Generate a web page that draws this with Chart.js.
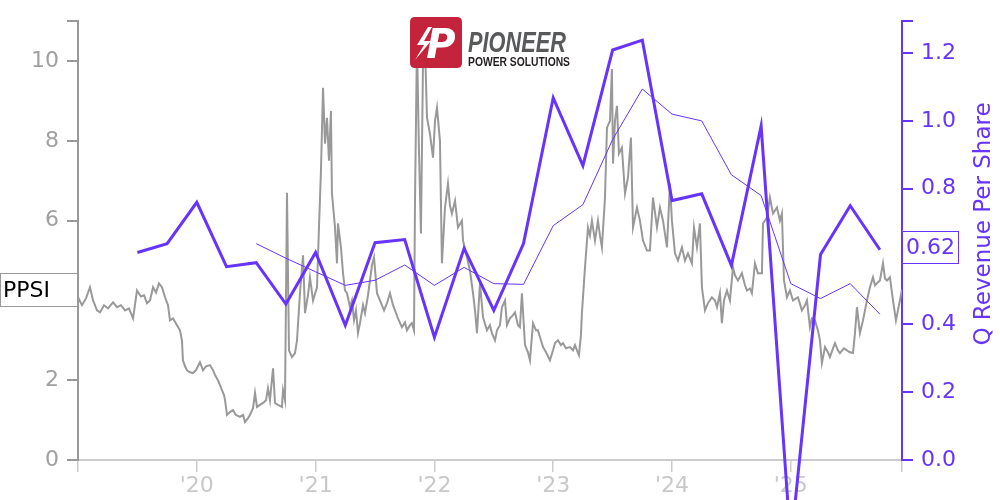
<!DOCTYPE html>
<html><head><meta charset="utf-8">
<script src="https://cdn.jsdelivr.net/npm/chart.js@4.4.1/dist/chart.umd.min.js"></script>
<style>html,body{margin:0;padding:0;background:#fff}#wrap{width:1000px;height:500px;position:relative}</style>
</head><body><div id="wrap"><canvas id="c" width="1000" height="500"></canvas></div>
<script>
// ---- DATA ----
const ticker = 'PPSI';
const rightAxisTitle = 'Q Revenue Per Share';
const yearTickLabels = ["'20", "'21", "'22", "'23", "'24", "'25"];
// quarter ends (YYYY-MM)
const quarterEnds = ['2019-06','2019-09','2019-12','2020-03','2020-06','2020-09','2020-12','2021-03','2021-06','2021-09','2021-12','2022-03','2022-06','2022-09','2022-12','2023-03','2023-06','2023-09','2023-12','2024-03','2024-06','2024-09','2024-12','2025-03','2025-06','2025-09'];
const revenuePerShare = [0.612,0.638,0.76,0.57,0.582,0.46,0.612,0.397,0.641,0.65,0.362,0.624,0.441,0.638,1.068,0.868,1.209,1.238,0.765,0.785,0.574,0.985,-0.25,0.606,0.75,0.62];
const avgQuarterEnds = ['2020-06','2020-09','2020-12','2021-03','2021-06','2021-09','2021-12','2022-03','2022-06','2022-09','2022-12','2023-03','2023-06','2023-09','2023-12','2024-03','2024-06','2024-09','2024-12','2025-03','2025-06','2025-09'];
const revenuePerShareAvg = [0.638,0.595,0.555,0.515,0.53,0.575,0.515,0.568,0.52,0.518,0.691,0.753,0.945,1.094,1.02,1.0,0.841,0.78,0.52,0.476,0.52,0.43];
// share price: time in months since 2019-01-01, close price
const priceMonth = [
0,0.40,0.81,1.21,1.52,1.92,2.22,2.63,3.03,3.54,
3.94,4.34,4.75,5.15,5.56,5.96,6.36,6.67,6.97,7.27,
7.58,7.88,8.18,8.48,8.79,9.09,9.29,9.60,10.0,10.3,
10.5,10.6,10.81,11.01,11.31,11.62,11.92,12.32,12.63,12.93,
13.33,13.64,13.84,14.14,14.54,14.75,14.85,15.05,15.35,15.66,
15.96,16.36,16.67,16.87,17.17,17.37,17.68,17.88,18.08,18.38,
18.69,18.99,19.19,19.39,19.70,19.90,20.2,20.6,20.71,20.91,
21.11,21.31,21.61,21.92,22.12,22.42,22.73,22.93,23.23,23.43,
23.74,24.14,24.34,24.54,24.75,24.95,25.15,25.35,25.55,25.65,
25.96,26.16,26.26,26.56,26.77,26.97,27.17,27.47,27.67,27.88,
28.08,28.28,28.48,28.79,28.99,29.29,29.49,29.69,29.90,30.2,
30.5,30.91,31.21,31.51,31.82,32.02,32.32,32.72,33.03,33.23,
33.53,33.73,33.94,34.04,34.24,34.44,34.64,34.85,35.05,35.25,
35.55,35.86,36.06,36.26,36.56,36.76,37.07,37.37,37.57,37.77,
38.08,38.38,38.78,38.89,39.29,39.59,39.90,40.10,40.30,40.60,
40.91,41.31,41.61,41.81,42.12,42.32,42.62,42.82,43.13,43.33,
43.63,43.94,44.14,44.44,44.64,44.84,45.15,45.45,45.65,45.96,
46.26,46.46,46.76,46.97,47.27,47.67,47.98,48.18,48.48,48.78,
48.99,49.29,49.69,50.0,50.2,50.4,50.6,50.8,50.9,51.21,
51.51,51.71,51.91,52.22,52.52,52.72,52.92,53.23,53.43,53.73,
53.93,54.04,54.24,54.44,54.64,54.94,55.25,55.55,55.85,56.06,
56.46,56.76,57.07,57.47,57.77,58.08,58.48,58.78,59.09,59.49,
59.79,59.99,60.3,60.6,61.0,61.31,61.61,62.01,62.22,62.52,
62.82,63.02,63.33,63.63,64.03,64.34,64.54,64.84,65.04,65.25,
65.55,65.85,66.16,66.36,66.66,67.06,67.37,67.57,67.87,68.07,
68.38,68.68,69.08,69.19,69.59,69.89,70.2,70.6,70.9,71.1,
71.31,71.61,71.91,72.22,72.72,73.12,73.43,73.63,73.93,74.13,
74.44,74.74,74.94,75.14,75.45,75.75,75.95,76.26,76.46,76.76,
76.96,77.37,77.67,77.97,78.28,78.48,78.68,78.98,79.29,79.49,
79.69,79.99,80.3,80.5,80.7,81.0,81.31,81.51,81.71,82.01,
82.32,82.62,82.82,83.02,83.22];
const priceValue = [
4.08,3.88,4.05,4.33,4.0,3.75,3.7,3.88,3.8,3.95,
3.83,3.88,3.75,3.8,3.55,4.25,4.1,4.13,3.93,4.0,
4.33,4.2,4.43,4.33,4.08,3.88,3.5,3.55,3.38,3.25,
3.0,2.5,2.35,2.25,2.2,2.18,2.25,2.45,2.25,2.35,
2.38,2.25,2.13,2.0,1.75,1.63,1.5,1.13,1.2,1.25,
1.13,1.08,1.13,0.95,1.05,1.13,1.3,1.68,1.33,1.38,
1.43,1.5,1.8,1.5,2.3,1.43,1.38,1.33,1.75,1.5,
6.7,2.75,2.58,2.68,3.0,4.18,5.13,3.68,4.13,4.58,
4.0,4.33,5.83,7.25,9.33,7.93,8.58,7.5,8.75,6.68,
5.83,4.93,5.93,5.33,4.68,4.25,4.18,3.83,4.0,3.5,
3.75,3.18,3.43,3.88,3.68,4.13,4.5,4.88,5.08,4.18,
4.0,3.75,3.93,4.18,3.88,3.75,3.55,3.33,3.45,3.25,
3.38,3.43,3.25,6.5,10.5,7.75,5.68,10.0,10.4,8.58,
8.18,7.58,8.5,8.83,8.0,4.93,6.33,6.93,6.38,6.18,
6.5,5.83,6.0,5.5,5.08,4.75,4.18,3.75,3.18,4.43,
3.58,3.25,3.38,3.18,3.0,3.25,3.38,3.83,4.0,3.38,
3.55,3.63,3.7,3.38,3.33,4.18,2.88,2.7,2.5,3.43,
3.25,3.25,3.0,2.83,2.7,2.5,2.75,2.93,3.0,2.88,
2.93,2.8,2.83,2.75,2.88,2.75,2.63,3.13,3.68,4.83,
5.83,5.63,6.0,5.5,6.0,5.63,5.33,6.58,8.33,8.5,
9.8,7.43,8.5,8.88,7.68,7.83,6.68,7.08,8.08,5.83,
6.33,6.0,5.5,5.25,5.25,6.58,5.83,6.33,6.0,5.33,
6.93,6.0,5.18,5.0,5.33,5.0,5.18,4.93,5.83,5.33,
5.93,4.33,3.75,3.93,4.08,4.0,3.83,4.18,3.43,4.0,
4.25,4.0,4.83,4.63,4.5,4.68,4.38,4.25,4.3,4.18,
4.93,4.68,4.68,5.93,6.08,6.58,6.18,6.33,6.0,6.18,
4.5,4.08,4.25,4.0,4.08,3.75,3.88,4.0,3.33,3.55,
3.5,3.25,3.0,2.43,2.83,2.7,2.58,2.8,2.93,2.75,
2.68,2.8,2.75,2.7,2.68,3.18,3.83,3.18,3.5,3.75,
4.0,4.33,4.58,4.38,4.43,4.5,4.93,4.55,4.5,4.58,
4.0,3.5,3.75,4.0,4.27];
const xAxisEndMonth = 83.23;   // early Dec 2025
const leftAxisMax = 11;
const rightAxisMax = 1.294;

// ---- helpers ----
function monthsSince2019(s){ const p = s.split('-').map(Number); return (p[0]-2019)*12 + p[1]; }
const PURPLE = '#6633ff';
const FONT = "'DejaVu Sans', 'Noto Sans', sans-serif";
Chart.defaults.font.family = FONT;

const revPts = quarterEnds.map((q,i)=>({x: monthsSince2019(q), y: revenuePerShare[i]}));
const avgPts = avgQuarterEnds.map((q,i)=>({x: monthsSince2019(q), y: revenuePerShareAvg[i]}));
const pricePts = priceMonth.map((m,i)=>({x: m, y: priceValue[i]}));

function roundRect(ctx,x,y,w,h,r){ctx.beginPath();ctx.moveTo(x+r,y);ctx.lineTo(x+w-r,y);ctx.quadraticCurveTo(x+w,y,x+w,y+r);ctx.lineTo(x+w,y+h-r);ctx.quadraticCurveTo(x+w,y+h,x+w-r,y+h);ctx.lineTo(x+r,y+h);ctx.quadraticCurveTo(x,y+h,x,y+h-r);ctx.lineTo(x,y+r);ctx.quadraticCurveTo(x,y,x+r,y);ctx.closePath();}

const overlay = {
  id: 'overlay',
  afterDraw(chart){
    const ctx = chart.ctx;
    const yL = chart.scales.y, yR = chart.scales.y1;
    ctx.save();
    // logo
    ctx.fillStyle = '#c4243b';
    roundRect(ctx,410,17,52,51,5); ctx.fill();
    ctx.fillStyle = '#fff';
    ctx.font = "bold italic 40px " + FONT;
    ctx.textAlign = 'center'; ctx.textBaseline = 'alphabetic';
    ctx.fillText('P', 441, 58);
    ctx.beginPath(); ctx.moveTo(428,27); ctx.lineTo(417,45); ctx.lineTo(424,45); ctx.lineTo(415,60); ctx.lineTo(431,41); ctx.lineTo(424,41); ctx.lineTo(432,27); ctx.closePath(); ctx.fill();
    ctx.textAlign = 'left';
    ctx.fillStyle = '#58595b';
    ctx.font = "bold italic 30px 'Liberation Sans', sans-serif";
    ctx.fillText('PIONEER', 468, 52, 98);
    ctx.fillStyle = '#231f20';
    ctx.font = "bold 12.5px 'Liberation Sans', sans-serif";
    ctx.fillText('POWER SOLUTIONS', 468, 66, 102);

    // ticker box (left)
    const lastPrice = priceValue[priceValue.length-1];
    const cy = yL.getPixelForValue(lastPrice);
    ctx.fillStyle = '#fff'; ctx.fillRect(0, cy-16.5, 77, 33);
    ctx.strokeStyle = '#999'; ctx.lineWidth = 1; ctx.strokeRect(0.5, Math.round(cy-16.5)+0.5, 77, 33);
    ctx.fillStyle = '#000'; ctx.font = '22px ' + FONT;
    ctx.fillText(ticker, 3, cy+7.5);

    // last value box (right)
    const lastRev = revenuePerShare[revenuePerShare.length-1];
    const cy2 = yR.getPixelForValue(lastRev) - 3;
    ctx.fillStyle = '#fff'; ctx.fillRect(902, cy2-16, 56, 32);
    ctx.strokeStyle = PURPLE; ctx.strokeRect(902.5, Math.round(cy2-16)+0.5, 56, 32);
    ctx.fillStyle = PURPLE;
    ctx.fillText(lastRev.toFixed(2), 906, cy2+7);

    // right axis title
    ctx.translate(990, 224);
    ctx.rotate(-Math.PI/2);
    ctx.textAlign = 'center';
    ctx.font = '23px ' + FONT;
    ctx.fillText(rightAxisTitle, 0, 0);
    ctx.restore();
  }
};

new Chart(document.getElementById('c'), {
  type: 'line',
  data: {
    datasets: [
      { data: revPts, yAxisID: 'y1', borderColor: PURPLE, borderWidth: 3, pointRadius: 0, tension: 0, clip: false, fill: false },
      { data: avgPts, yAxisID: 'y1', borderColor: PURPLE, borderWidth: 1, pointRadius: 0, tension: 0, fill: false },
      { data: pricePts, yAxisID: 'y', borderColor: '#999999', borderWidth: 2, pointRadius: 0, tension: 0, fill: false }
    ]
  },
  options: {
    responsive: false, animation: false, devicePixelRatio: 1,
    layout: { padding: { top: 20, left: 0, right: 0, bottom: 0 } },
    plugins: { legend: { display: false }, tooltip: { enabled: false } },
    scales: {
      x: {
        type: 'linear', position: 'bottom', min: 0, max: xAxisEndMonth,
        afterBuildTicks(s){ s.ticks = [0,12,24,36,48,60,72,xAxisEndMonth].map(v=>({value:v})); },
        afterFit(s){ s.height = 40; },
        ticks: { autoSkip: false, maxRotation: 0, padding: 1, color: '#c8c8c8', font: { size: 22 },
          callback(v){ const i = [12,24,36,48,60,72].indexOf(v); return i >= 0 ? yearTickLabels[i] : ''; } },
        grid: { drawOnChartArea: false, drawTicks: true, tickLength: 12, color: '#cccccc', lineWidth: 1.5 },
        border: { display: true, color: '#cccccc', width: 2 }
      },
      y: {
        position: 'left', min: 0, max: leftAxisMax,
        afterFit(s){ s.width = 78; },
        ticks: { stepSize: 2, padding: 8, color: '#a0a0a0', font: { size: 22 },
          callback(v){ return (Math.abs(v/2 - Math.round(v/2)) < 1e-6) ? String(v) : ''; } },
        grid: { drawOnChartArea: false, drawTicks: true, tickLength: 11, color: '#999999', lineWidth: 2 },
        border: { display: true, color: '#999999', width: 2 }
      },
      y1: {
        position: 'right', min: 0, max: rightAxisMax,
        afterFit(s){ s.width = 98; },
        ticks: { stepSize: 0.2, padding: 8, color: PURPLE, font: { size: 22 },
          callback(v){ const r = Math.round(v*5)/5; return Math.abs(v-r) < 1e-6 ? r.toFixed(1) : ''; } },
        grid: { drawOnChartArea: false, drawTicks: true, tickLength: 11, color: PURPLE, lineWidth: 2 },
        border: { display: true, color: PURPLE, width: 2 }
      }
    }
  },
  plugins: [overlay]
});
</script>
</body></html>
